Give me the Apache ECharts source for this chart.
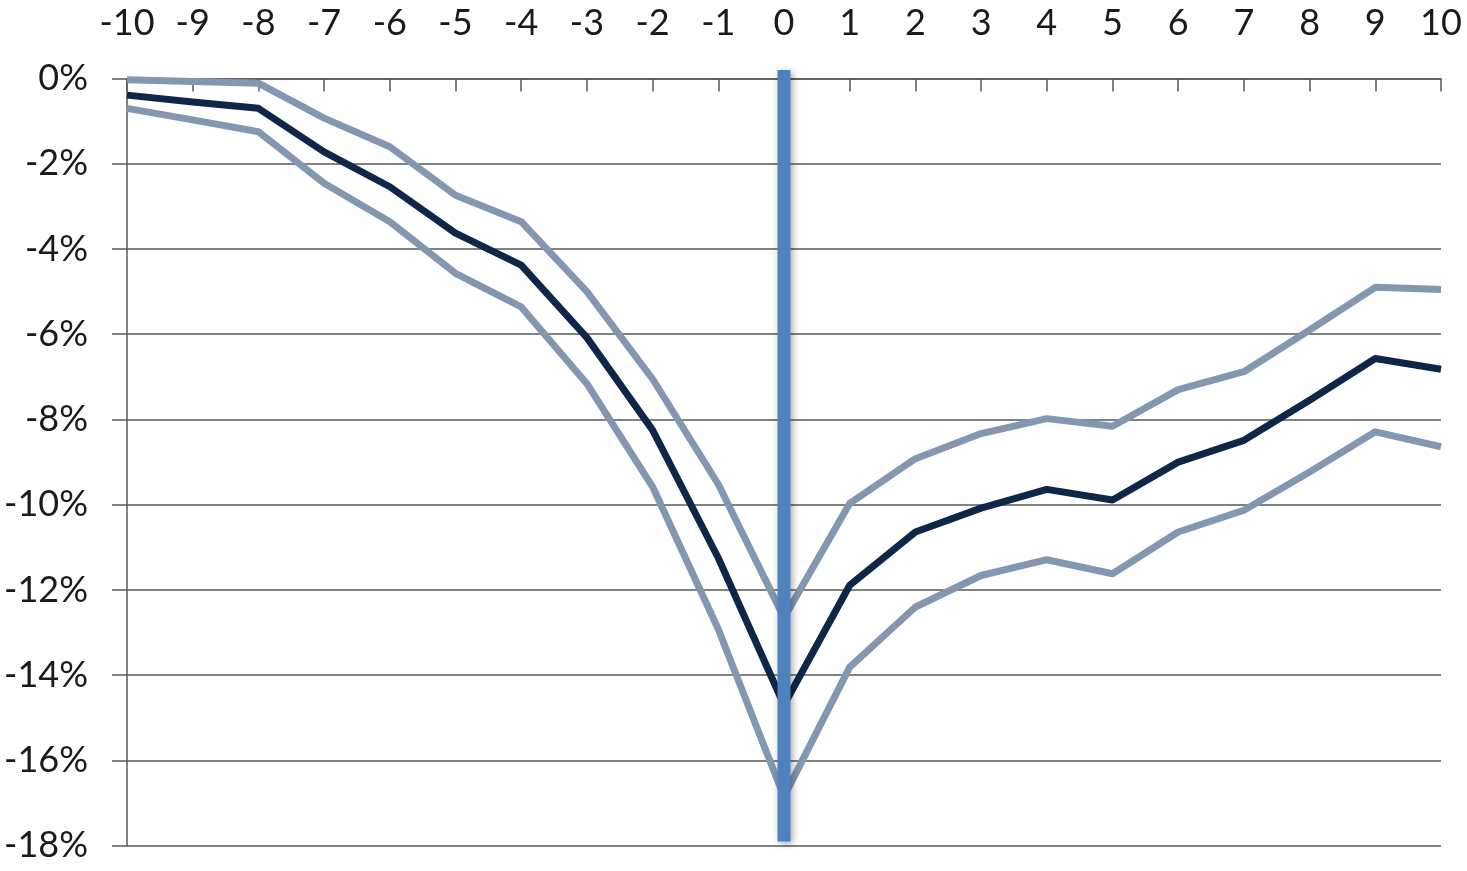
<!DOCTYPE html>
<html>
<head>
<meta charset="utf-8">
<script src="https://cdn.jsdelivr.net/npm/echarts@6/dist/echarts.min.js"></script>
<style>
  html, body { margin: 0; padding: 0; background: #ffffff; }
  #chart { width: 1467px; height: 871px; }
</style>
</head>
<body>
<div id="chart"></div>
<script>
// Categories (event time)
const categories = ['-10','-9','-8','-7','-6','-5','-4','-3','-2','-1','0','1','2','3','4','5','6','7','8','9','10'];
// Central estimate (%)
const central = [-0.39,-0.55,-0.70,-1.72,-2.54,-3.63,-4.38,-6.08,-8.25,-11.25,-14.7,-11.89,-10.64,-10.08,-9.64,-9.89,-9.00,-8.49,-7.55,-6.57,-6.82];
// Upper band (%)
const upper = [-0.03,-0.07,-0.11,-0.93,-1.60,-2.74,-3.36,-5.00,-7.05,-9.52,-12.65,-9.97,-8.92,-8.33,-7.98,-8.16,-7.30,-6.88,-5.90,-4.90,-4.95];
// Lower band (%)
const lower = [-0.70,-0.97,-1.25,-2.46,-3.36,-4.57,-5.36,-7.16,-9.58,-12.92,-16.85,-13.81,-12.40,-11.66,-11.29,-11.62,-10.64,-10.13,-9.23,-8.29,-8.64];
// Event marker at category '0' (top and bottom extent, %)
const eventCategory = '0';
const eventExtent = [0.2, -17.9];
// Y axis ticks
const yMin = -18, yMax = 0, yStep = 2;

const axisColor = '#595959';
const labelFont = { fontFamily: 'Lato', fontSize: 36, color: '#1a1a1a' };
const eventIdx = categories.indexOf(eventCategory);

const chart = echarts.init(document.getElementById('chart'), null, { renderer: 'canvas' });
chart.setOption({
  animation: false,
  backgroundColor: '#ffffff',
  grid: { left: 127, right: 26, top: 78.5, bottom: 25.3, containLabel: false },
  xAxis: {
    type: 'category',
    position: 'top',
    data: categories,
    boundaryGap: false,
    axisLine: { show: true, onZero: false, lineStyle: { color: axisColor, width: 1.5 } },
    axisTick: { show: true, inside: true, length: 13, lineStyle: { color: axisColor, width: 1.5 } },
    axisLabel: Object.assign({ margin: 37, interval: 0, lineHeight: 36 }, labelFont),
    splitLine: { show: false }
  },
  yAxis: {
    type: 'value',
    min: yMin, max: yMax, interval: yStep,
    axisLine: { show: true, lineStyle: { color: axisColor, width: 1.5 } },
    axisTick: { show: true, inside: false, length: 15, lineStyle: { color: axisColor, width: 1.5 } },
    axisLabel: Object.assign({ margin: 39, formatter: '{value}%' }, labelFont),
    splitLine: { show: true, lineStyle: { color: axisColor, width: 1.5 } }
  },
  series: [
    {
      name: 'upper', type: 'line', data: upper, symbol: 'none', z: 3,
      lineStyle: { color: '#8497B0', width: 7, join: 'round' }
    },
    {
      name: 'lower', type: 'line', data: lower, symbol: 'none', z: 3,
      lineStyle: { color: '#8497B0', width: 7, join: 'round' }
    },
    {
      name: 'central', type: 'line', data: central, symbol: 'none', z: 4,
      lineStyle: { color: '#0E2648', width: 7, join: 'round' }
    },
    {
      name: 'event', type: 'line', z: 10, clip: false, symbol: 'none',
      data: [[eventIdx, eventExtent[0]], [eventIdx, eventExtent[1]]],
      lineStyle: {
        color: '#4F81BD', width: 13, cap: 'butt',
        shadowColor: 'rgba(0,0,0,0.35)', shadowBlur: 7, shadowOffsetX: 2, shadowOffsetY: 2
      },
      emphasis: { disabled: true }
    }
  ]
});
</script>
</body>
</html>
